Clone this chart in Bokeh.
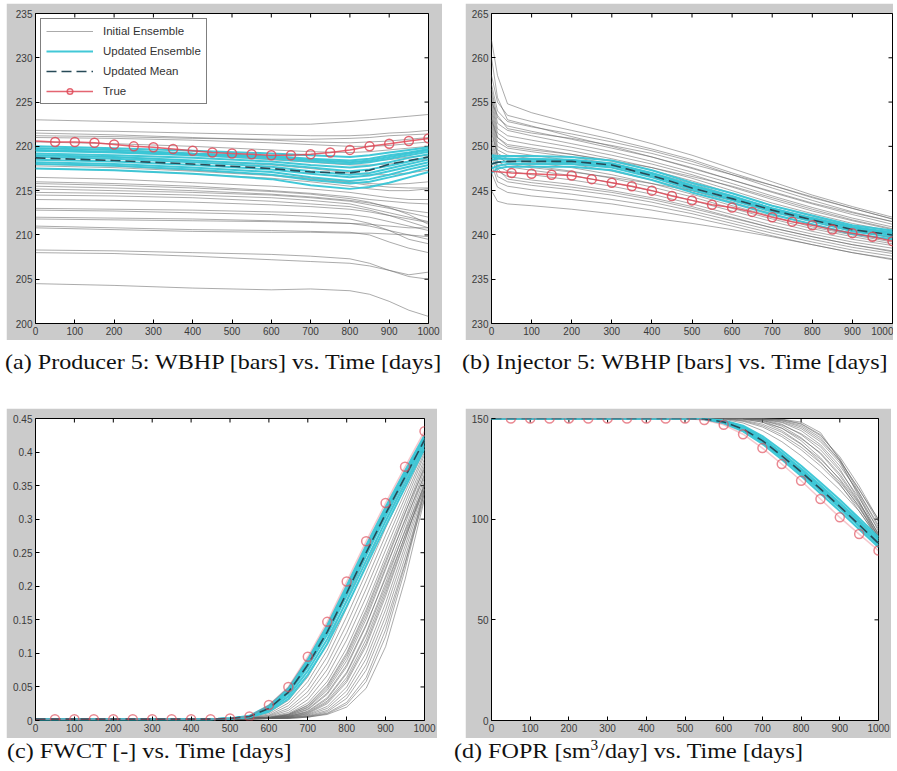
import math
from bokeh.plotting import figure
from bokeh.models import Div, FixedTicker, CustomJSTickFormatter, Range1d
from bokeh.layouts import row, column
from bokeh.embed import file_html
from bokeh.resources import INLINE

# ---------------- data ----------------
X_TICKS = [0, 100, 200, 300, 400, 500, 600, 700, 800, 900, 1000]
TIME_TRUE = [0, 50, 100, 150, 200, 250, 300, 350, 400, 450, 500,
             550, 600, 650, 700, 750, 800, 850, 900, 950, 1000]

# (a) Producer 5 WBHP
A_TIME = [0, 200, 400, 600, 700, 800, 850, 900, 950, 1000]
A_INITIAL = [
    [223.0, 222.8, 222.6, 222.5, 222.5, 222.8, 223.0, 223.2, 223.4, 223.6],
    [221.8, 221.7, 221.5, 221.3, 221.2, 221.2, 221.3, 221.5, 221.6, 221.8],
    [221.5, 221.3, 221.0, 220.7, 220.5, 220.4, 220.5, 220.6, 220.8, 221.0],
    [221.2, 221.1, 220.9, 220.8, 220.8, 220.9, 221.0, 221.2, 221.3, 221.4],
    [221.0, 220.9, 220.7, 220.4, 220.2, 220.0, 220.0, 220.1, 220.3, 220.5],
    [220.5, 220.3, 220.0, 219.6, 219.4, 219.3, 219.4, 219.6, 219.8, 220.0],
    [219.8, 219.6, 219.2, 218.7, 218.4, 218.2, 218.3, 218.5, 218.8, 219.0],
    [219.5, 219.3, 219.0, 218.5, 218.2, 217.9, 217.9, 218.0, 218.3, 218.6],
    [219.0, 218.8, 218.4, 217.9, 217.5, 217.0, 216.8, 216.8, 217.0, 217.3],
    [218.0, 217.8, 217.3, 216.8, 216.4, 216.0, 215.8, 215.7, 215.8, 216.0],
    [217.8, 217.6, 217.2, 216.7, 216.3, 215.9, 215.6, 215.4, 215.3, 215.3],
    [217.5, 217.3, 216.9, 216.4, 216.0, 215.5, 215.2, 215.0, 215.0, 215.2],
    [216.5, 216.3, 215.9, 215.5, 215.2, 214.8, 214.5, 214.2, 214.0, 214.0],
    [216.0, 215.8, 215.5, 215.0, 214.7, 214.3, 214.0, 213.8, 213.6, 213.5],
    [215.8, 215.6, 215.3, 214.9, 214.6, 214.1, 213.7, 213.1, 212.3, 211.2],
    [215.5, 215.3, 215.0, 214.6, 214.3, 213.9, 213.6, 213.2, 212.8, 212.5],
    [215.2, 215.0, 214.8, 214.5, 214.2, 213.8, 213.4, 213.0, 212.5, 212.0],
    [214.8, 214.7, 214.5, 214.2, 213.9, 213.5, 213.0, 212.5, 212.0, 211.5],
    [214.5, 214.4, 214.2, 213.8, 213.5, 213.2, 212.8, 212.2, 211.5, 210.8],
    [214.0, 213.9, 213.7, 213.4, 213.2, 212.9, 212.6, 212.2, 211.8, 211.4],
    [213.0, 212.9, 212.8, 212.6, 212.5, 212.3, 212.0, 211.5, 211.0, 210.5],
    [212.8, 212.7, 212.5, 212.3, 212.1, 211.8, 211.3, 210.5, 209.5, 209.0],
    [212.0, 211.9, 211.8, 211.6, 211.5, 211.3, 211.0, 210.5, 210.0, 209.5],
    [211.8, 211.7, 211.6, 211.5, 211.4, 211.3, 211.2, 211.0, 210.8, 210.8],
    [211.0, 210.8, 210.6, 210.5, 210.4, 210.3, 210.0, 209.2, 208.5, 208.0],
    [210.8, 210.6, 210.4, 210.3, 210.3, 210.2, 210.2, 210.1, 210.0, 209.8],
    [208.3, 208.2, 208.0, 207.8, 207.6, 207.3, 206.8, 206.0, 205.5, 205.8],
    [208.0, 207.9, 207.6, 207.2, 207.0, 206.8, 206.5, 206.0, 205.3, 205.0],
    [204.5, 204.3, 204.0, 203.8, 203.9, 203.7, 203.3, 202.5, 201.5, 200.8],
]
A_UPDATED = [
    [220.0, 219.8, 219.5, 219.2, 219.0, 218.8, 219.0, 219.3, 219.6, 219.9],
    [219.8, 219.6, 219.2, 218.9, 218.6, 218.4, 218.6, 219.0, 219.3, 219.7],
    [219.6, 219.4, 219.1, 218.8, 218.5, 218.2, 218.4, 218.8, 219.2, 219.6],
    [219.5, 219.3, 219.0, 218.6, 218.3, 218.0, 218.2, 218.6, 219.0, 219.4],
    [219.2, 219.0, 218.7, 218.3, 217.9, 217.6, 217.8, 218.2, 218.7, 219.1],
    [219.0, 218.8, 218.4, 218.0, 217.6, 217.2, 217.4, 217.8, 218.3, 218.8],
    [218.8, 218.6, 218.2, 217.7, 217.2, 216.8, 217.0, 217.5, 218.0, 218.5],
    [218.5, 218.3, 217.9, 217.4, 216.9, 216.5, 216.7, 217.2, 217.7, 218.2],
    [218.2, 218.0, 217.6, 217.1, 216.5, 216.1, 216.3, 216.8, 217.4, 217.9],
    [218.0, 217.8, 217.4, 216.8, 216.2, 215.8, 216.0, 216.5, 217.0, 217.6],
    [217.5, 217.3, 216.9, 216.3, 215.6, 215.2, 215.4, 215.9, 216.5, 217.1],
]
A_MEAN = [218.7, 218.4, 218.0, 217.5, 217.1, 217.0, 217.3, 218.0, 218.4, 218.8]
A_TRUE = [220.6, 220.5, 220.5, 220.4, 220.2, 220.0, 219.9, 219.7, 219.5, 219.3, 219.2,
          219.1, 219.0, 219.0, 219.1, 219.3, 219.6, 220.0, 220.3, 220.6, 220.9]

# (b) Injector 5 WBHP
B_TIME = [0, 15, 40, 100, 200, 300, 400, 500, 600, 700, 800, 900, 1000]
B_INITIAL = [
    [262.0, 258.0, 254.8, 253.8, 252.6, 251.5, 250.3, 249.0, 247.5, 246.0, 244.5, 243.2, 242.0],
    [260.0, 255.5, 253.0, 252.3, 251.1, 250.0, 248.8, 247.5, 246.2, 244.9, 243.6, 242.5, 241.5],
    [258.0, 255.0, 253.5, 252.8, 251.8, 250.8, 249.7, 248.5, 247.0, 245.6, 244.2, 243.0, 241.8],
    [257.0, 254.0, 252.8, 252.2, 251.4, 250.5, 249.5, 248.3, 246.8, 245.3, 243.9, 242.6, 241.5],
    [256.5, 253.2, 252.3, 251.7, 250.8, 249.8, 248.8, 247.6, 246.2, 244.8, 243.5, 242.3, 241.2],
    [256.0, 252.6, 251.8, 251.2, 250.3, 249.4, 248.3, 247.1, 245.8, 244.4, 243.1, 241.9, 240.9],
    [255.5, 252.0, 251.2, 250.7, 249.9, 249.0, 248.0, 246.8, 245.4, 244.0, 242.7, 241.6, 240.6],
    [255.0, 253.5, 252.0, 251.5, 250.9, 250.1, 249.2, 248.0, 246.8, 245.6, 244.3, 243.0, 241.8],
    [255.0, 251.5, 250.7, 250.2, 249.5, 248.6, 247.6, 246.4, 245.0, 243.6, 242.4, 241.3, 240.4],
    [254.5, 251.0, 250.2, 249.8, 249.1, 248.3, 247.3, 246.1, 244.7, 243.3, 242.1, 241.0, 240.1],
    [254.0, 250.5, 249.8, 249.4, 248.8, 248.0, 247.0, 245.8, 244.4, 243.0, 241.8, 240.8, 239.9],
    [253.5, 250.0, 249.4, 249.0, 248.4, 247.6, 246.6, 245.4, 244.0, 242.7, 241.5, 240.5, 239.7],
    [253.0, 251.0, 250.0, 249.6, 249.1, 248.4, 247.6, 246.6, 245.5, 244.2, 242.9, 241.7, 240.7],
    [253.0, 249.6, 249.0, 248.6, 248.0, 247.2, 246.2, 245.0, 243.7, 242.4, 241.2, 240.2, 239.4],
    [252.5, 249.2, 248.6, 248.2, 247.6, 246.8, 245.8, 244.6, 243.3, 242.1, 240.9, 240.0, 239.2],
    [252.0, 248.8, 248.2, 247.8, 247.2, 246.4, 245.4, 244.3, 243.0, 241.8, 240.7, 239.8, 239.0],
    [251.5, 249.0, 248.0, 247.6, 247.1, 246.5, 245.8, 245.0, 244.0, 242.9, 241.7, 240.6, 239.6],
    [251.0, 248.3, 247.7, 247.3, 246.7, 245.9, 245.0, 243.9, 242.7, 241.5, 240.4, 239.5, 238.8],
    [250.5, 247.8, 247.2, 246.8, 246.2, 245.5, 244.6, 243.5, 242.3, 241.1, 240.1, 239.2, 238.5],
    [250.0, 247.2, 246.6, 246.2, 245.7, 245.0, 244.2, 243.2, 242.0, 240.8, 239.8, 238.9, 238.2],
    [249.5, 247.5, 246.3, 245.9, 245.4, 244.8, 244.0, 243.0, 241.9, 240.8, 239.8, 238.9, 238.1],
    [249.0, 246.6, 246.0, 245.6, 245.1, 244.5, 243.7, 242.7, 241.6, 240.5, 239.5, 238.6, 237.9],
    [248.0, 246.0, 245.5, 245.1, 244.6, 244.0, 243.3, 242.4, 241.3, 240.2, 239.2, 238.3, 237.6],
    [247.0, 245.4, 244.8, 244.4, 244.0, 243.5, 242.8, 242.0, 241.0, 239.9, 238.9, 238.0, 237.3],
    [245.0, 243.8, 243.5, 243.3, 242.9, 242.4, 241.9, 241.3, 240.6, 239.8, 238.9, 238.0, 237.2],
]
B_UPDATED = [
    [249.0, 248.9, 248.9, 248.9, 248.8, 248.4, 247.3, 245.9, 244.7, 243.3, 242.2, 241.1, 240.5],
    [248.8, 248.7, 248.6, 248.5, 248.4, 248.0, 246.9, 245.5, 244.3, 243.0, 241.9, 240.9, 240.3],
    [248.5, 248.6, 248.6, 248.6, 248.5, 248.1, 247.0, 245.6, 244.4, 243.0, 241.9, 240.8, 240.2],
    [248.0, 248.2, 248.3, 248.3, 248.2, 247.8, 246.7, 245.3, 244.1, 242.8, 241.7, 240.6, 240.0],
    [247.5, 247.8, 248.0, 248.0, 248.0, 247.6, 246.5, 245.1, 243.9, 242.6, 241.5, 240.4, 239.8],
    [247.0, 247.5, 247.7, 247.7, 247.7, 247.3, 246.2, 244.8, 243.6, 242.3, 241.2, 240.1, 239.5],
]
B_MEAN = [248.0, 248.2, 248.3, 248.3, 248.3, 247.9, 246.7, 245.3, 244.1, 242.8, 241.7, 240.6, 240.0]
B_TRUE = [247.2, 247.0, 246.9, 246.8, 246.7, 246.3, 245.9, 245.5, 245.0, 244.4, 243.9,
          243.4, 243.1, 242.6, 242.0, 241.5, 241.1, 240.6, 240.2, 239.8, 239.3]

# (c) FWCT
C_TIME = [0, 450, 500, 550, 600, 650, 700, 750, 800, 850, 900, 950, 1000]
C_INITIAL = [
    [0.002, 0.002, 0.003, 0.005, 0.012, 0.030, 0.065, 0.115, 0.180, 0.245, 0.310, 0.365, 0.418],
    [0.002, 0.002, 0.003, 0.004, 0.010, 0.026, 0.058, 0.105, 0.168, 0.232, 0.298, 0.356, 0.412],
    [0.002, 0.002, 0.003, 0.004, 0.008, 0.022, 0.050, 0.095, 0.155, 0.220, 0.287, 0.348, 0.408],
    [0.002, 0.002, 0.002, 0.004, 0.007, 0.018, 0.043, 0.085, 0.143, 0.208, 0.276, 0.340, 0.404],
    [0.002, 0.002, 0.002, 0.003, 0.006, 0.015, 0.037, 0.076, 0.131, 0.196, 0.265, 0.332, 0.400],
    [0.002, 0.002, 0.002, 0.003, 0.005, 0.012, 0.031, 0.067, 0.120, 0.184, 0.254, 0.324, 0.396],
    [0.002, 0.002, 0.002, 0.003, 0.005, 0.010, 0.026, 0.058, 0.108, 0.172, 0.244, 0.316, 0.390],
    [0.002, 0.002, 0.002, 0.003, 0.004, 0.009, 0.023, 0.053, 0.101, 0.165, 0.238, 0.310, 0.376],
    [0.002, 0.002, 0.002, 0.003, 0.004, 0.009, 0.022, 0.051, 0.098, 0.161, 0.234, 0.308, 0.385],
    [0.002, 0.002, 0.002, 0.003, 0.004, 0.008, 0.020, 0.048, 0.094, 0.156, 0.228, 0.298, 0.365],
    [0.002, 0.002, 0.002, 0.003, 0.004, 0.008, 0.019, 0.045, 0.089, 0.151, 0.225, 0.300, 0.380],
    [0.002, 0.002, 0.002, 0.003, 0.004, 0.007, 0.017, 0.041, 0.083, 0.143, 0.212, 0.282, 0.350],
    [0.002, 0.002, 0.002, 0.003, 0.004, 0.007, 0.016, 0.039, 0.080, 0.141, 0.215, 0.292, 0.374],
    [0.002, 0.002, 0.002, 0.003, 0.004, 0.006, 0.014, 0.034, 0.072, 0.131, 0.205, 0.284, 0.368],
    [0.002, 0.002, 0.002, 0.003, 0.004, 0.006, 0.013, 0.032, 0.070, 0.128, 0.200, 0.275, 0.345],
    [0.002, 0.002, 0.002, 0.003, 0.004, 0.006, 0.012, 0.029, 0.064, 0.121, 0.195, 0.276, 0.362],
    [0.002, 0.002, 0.002, 0.003, 0.003, 0.005, 0.011, 0.027, 0.060, 0.115, 0.190, 0.270, 0.352],
    [0.002, 0.002, 0.002, 0.003, 0.003, 0.005, 0.010, 0.025, 0.057, 0.111, 0.185, 0.268, 0.356],
    [0.002, 0.002, 0.002, 0.003, 0.003, 0.005, 0.009, 0.021, 0.050, 0.101, 0.175, 0.260, 0.350],
    [0.002, 0.002, 0.002, 0.003, 0.003, 0.004, 0.008, 0.018, 0.044, 0.092, 0.165, 0.252, 0.344],
    [0.002, 0.002, 0.002, 0.003, 0.003, 0.004, 0.007, 0.015, 0.038, 0.083, 0.155, 0.243, 0.338],
    [0.002, 0.002, 0.002, 0.002, 0.003, 0.004, 0.006, 0.013, 0.033, 0.075, 0.145, 0.235, 0.332],
    [0.002, 0.002, 0.002, 0.002, 0.003, 0.004, 0.006, 0.011, 0.027, 0.064, 0.135, 0.232, 0.345],
    [0.002, 0.002, 0.002, 0.002, 0.003, 0.003, 0.005, 0.010, 0.024, 0.058, 0.125, 0.225, 0.340],
    [0.002, 0.002, 0.002, 0.002, 0.003, 0.003, 0.005, 0.009, 0.020, 0.048, 0.110, 0.210, 0.330],
]
C_UPDATED = [
    [0.002, 0.002, 0.003, 0.007, 0.022, 0.048, 0.091, 0.142, 0.201, 0.261, 0.318, 0.372, 0.425],
    [0.002, 0.002, 0.003, 0.006, 0.020, 0.045, 0.087, 0.137, 0.196, 0.256, 0.313, 0.368, 0.421],
    [0.002, 0.002, 0.003, 0.006, 0.019, 0.043, 0.084, 0.133, 0.191, 0.251, 0.309, 0.364, 0.418],
    [0.002, 0.002, 0.003, 0.006, 0.017, 0.040, 0.080, 0.128, 0.186, 0.246, 0.304, 0.360, 0.415],
    [0.002, 0.002, 0.003, 0.005, 0.015, 0.036, 0.074, 0.121, 0.178, 0.238, 0.297, 0.353, 0.410],
    [0.002, 0.002, 0.003, 0.005, 0.013, 0.032, 0.068, 0.114, 0.170, 0.230, 0.290, 0.347, 0.405],
]
C_MEAN = [0.002, 0.002, 0.003, 0.006, 0.018, 0.042, 0.083, 0.132, 0.190, 0.250, 0.308, 0.363, 0.418]
C_TRUE = [0.002, 0.002, 0.002, 0.002, 0.002, 0.002, 0.002, 0.002, 0.002, 0.002, 0.003,
          0.006, 0.023, 0.050, 0.095, 0.147, 0.207, 0.267, 0.324, 0.378, 0.431]

# (d) FOPR
D_TIME = [0, 500, 550, 600, 650, 700, 750, 800, 850, 900, 950, 1000]
D_INITIAL = [
    [150, 150, 150, 149.6, 147.8, 144.0, 138.5, 131.5, 123.5, 114.5, 104.0, 90.5],
    [150, 150, 150, 149.8, 148.6, 145.8, 141.0, 134.5, 126.5, 117.0, 105.5, 91.0],
    [150, 150, 150, 149.9, 148.9, 146.5, 142.0, 135.8, 128.0, 118.5, 106.5, 89.5],
    [150, 150, 150, 150.0, 149.2, 147.2, 143.2, 137.2, 129.8, 120.0, 107.5, 91.5],
    [150, 150, 150, 150.0, 149.6, 148.2, 145.2, 140.0, 133.0, 122.5, 108.5, 92.5],
    [150, 150, 150, 150.0, 149.8, 148.2, 144.0, 137.5, 128.5, 117.5, 104.0, 90.0],
    [150, 150, 150, 150.0, 149.9, 148.8, 145.2, 139.0, 130.5, 119.5, 106.0, 91.5],
    [150, 150, 150, 150.0, 149.9, 149.0, 146.8, 142.5, 136.0, 125.0, 109.0, 90.5],
    [150, 150, 150, 150.0, 150.0, 149.2, 146.2, 140.5, 132.5, 121.5, 108.0, 93.0],
    [150, 150, 150, 150.0, 150.0, 149.5, 147.2, 142.0, 134.5, 124.0, 110.5, 95.0],
    [150, 150, 150, 150.0, 150.0, 149.6, 148.0, 144.0, 137.0, 126.5, 113.0, 97.0],
    [150, 150, 150, 150.0, 150.0, 149.7, 148.3, 145.0, 138.5, 128.0, 112.0, 94.0],
    [150, 150, 150, 150.0, 150.0, 149.8, 148.8, 145.8, 139.5, 129.0, 115.0, 98.5],
    [150, 150, 150, 150.0, 150.0, 149.9, 149.0, 146.5, 140.5, 129.0, 111.0, 92.0],
    [150, 150, 150, 150.0, 150.0, 150.0, 149.4, 147.2, 141.5, 131.0, 116.5, 99.5],
    [150, 150, 150, 150.0, 150.0, 150.0, 149.5, 147.5, 142.0, 130.0, 113.0, 96.0],
    [150, 150, 150, 150.0, 150.0, 150.0, 149.7, 148.2, 143.0, 129.5, 114.5, 100.0],
]
D_UPDATED = [
    [150, 150, 149.9, 149.0, 146.4, 141.3, 134.2, 126.5, 118.2, 109.6, 100.5, 91.0],
    [150, 150, 149.9, 148.8, 145.8, 140.3, 133.0, 125.2, 116.8, 108.2, 99.2, 90.0],
    [150, 150, 149.8, 148.5, 145.2, 139.6, 132.2, 124.3, 115.9, 107.2, 98.2, 89.0],
    [150, 150, 149.8, 148.2, 144.5, 138.7, 131.2, 123.2, 114.8, 106.0, 97.0, 88.0],
    [150, 150, 149.7, 148.0, 144.3, 138.3, 130.7, 122.6, 114.1, 105.4, 96.3, 87.0],
    [150, 150, 149.6, 147.6, 143.6, 137.4, 129.6, 121.4, 112.8, 104.0, 95.0, 86.0],
]
D_MEAN = [150, 150, 149.8, 148.3, 144.8, 139.0, 131.5, 123.5, 115.0, 106.3, 97.2, 88.0]
D_TRUE = [150, 150, 150, 150, 150, 150, 150, 150, 150, 150, 150,
          149.2, 146.9, 142.2, 135.3, 127.4, 119.1, 110.0, 100.9, 92.6, 84.4]

A_YTICKS = [200, 205, 210, 215, 220, 225, 230, 235]
B_YTICKS = [230, 235, 240, 245, 250, 255, 260, 265]
C_YTICKS = [0, 0.05, 0.1, 0.15, 0.2, 0.25, 0.3, 0.35, 0.4, 0.45]
D_YTICKS = [0, 50, 100, 150]

CAPTIONS = [
    "(a) Producer 5: WBHP [bars] vs. Time [days]",
    "(b) Injector 5: WBHP [bars] vs. Time [days]",
    "(c) FWCT [-] vs. Time [days]",
    "(d) FOPR [sm<sup style='font-size:14px;line-height:0;vertical-align:8px'>3</sup>/day] vs. Time [days]",
]
LEGEND_LABELS = ["Initial Ensemble", "Updated Ensemble", "Updated Mean", "True"]

# ---------------- styles ----------------
FRAME_GRAY = "#cbcbcb"
GRAY = "#666666"
CYAN = "#38c5d5"
MEAN_COLOR = "#274a57"
RED = "#df4a58"
TICK_FONT = "Liberation Sans"


def make_panel(width, height, bl, br, bt, bb, yrange, yticks, fmt_js=None):
    p = figure(width=width, height=height, output_backend="svg", toolbar_location=None,
               x_range=Range1d(0, 1000), y_range=Range1d(*yrange),
               min_border_left=bl, min_border_right=br, min_border_top=bt, min_border_bottom=bb,
               background_fill_color="white", border_fill_color=FRAME_GRAY,
               outline_line_color="black", outline_line_width=1)
    p.xgrid.visible = False
    p.ygrid.visible = False
    for ax, ticks in ((p.xaxis[0], X_TICKS), (p.yaxis[0], yticks)):
        ax.ticker = FixedTicker(ticks=ticks)
        ax.axis_line_color = None
        ax.major_tick_in = 4
        ax.major_tick_out = 0
        ax.major_tick_line_color = "black"
        ax.minor_tick_line_color = None
        ax.major_label_text_font = TICK_FONT
        ax.major_label_text_font_size = "10px"
        ax.major_label_text_color = "#3a3a3a"
    p.xaxis[0].major_label_standoff = 3
    p.yaxis[0].major_label_standoff = 3
    if fmt_js:
        p.yaxis[0].formatter = CustomJSTickFormatter(code=fmt_js)
    # mirrored inward ticks on top and right edges (clipped to the frame)
    p.scatter(X_TICKS, [yrange[1]] * len(X_TICKS), marker="dash", angle=math.pi / 2,
              size=8, line_color="black", line_width=1)
    p.scatter([1000] * len(yticks), yticks, marker="dash", size=8,
              line_color="black", line_width=1)
    return p


def draw(p, t, initial, updated, mean, true_vals, legend=False, true_line_alpha=0.85,
         marker_alpha=0.85):
    kw = (lambda i: {"legend_label": LEGEND_LABELS[i]}) if legend else (lambda i: {})
    p.multi_line([t] * len(initial), initial, line_color=GRAY, line_alpha=0.55,
                 line_width=1, **kw(0))
    p.multi_line([t] * len(updated), updated, line_color=CYAN, line_alpha=0.95,
                 line_width=2, **kw(1))
    p.line(t, mean, line_color=MEAN_COLOR, line_width=1.6, line_dash="10 5", **kw(2))
    p.line(TIME_TRUE, true_vals, line_color=RED, line_width=1.5, line_alpha=true_line_alpha,
           **kw(3))
    p.scatter(TIME_TRUE[1:], true_vals[1:], marker="circle", size=9, fill_color=None,
              line_color=RED, line_width=1.5, line_alpha=marker_alpha, **kw(3))


fa = make_panel(436, 337, 29, 14, 10, 17, (200, 235), A_YTICKS)
draw(fa, A_TIME, A_INITIAL, A_UPDATED, A_MEAN, A_TRUE, legend=True)
lg = fa.legend[0]
lg.location = "top_left"
lg.margin = 5
lg.padding = 5
lg.spacing = 6
lg.glyph_width = 47
lg.glyph_height = 14
lg.label_height = 14
lg.label_standoff = 10
lg.label_text_font = TICK_FONT
lg.label_text_font_size = "11.5px"
lg.label_text_color = "#333333"
lg.border_line_color = "black"
lg.border_line_width = 1
lg.background_fill_color = "white"
lg.background_fill_alpha = 1

fb = make_panel(428, 337, 26, 1, 9, 13, (230, 265), B_YTICKS)
draw(fb, B_TIME, B_INITIAL, B_UPDATED, B_MEAN, B_TRUE)

fc = make_panel(431, 330, 29, 13, 9, 17, (0, 0.45), C_YTICKS,
                fmt_js="return tick.toFixed(2).replace(/0+$/,'').replace(/\\.$/,'');")
draw(fc, C_TIME, C_INITIAL, C_UPDATED, C_MEAN, C_TRUE, true_line_alpha=0.3, marker_alpha=0.65)

fd = make_panel(426, 330, 26, 13, 10, 18, (0, 150), D_YTICKS)
draw(fd, D_TIME, D_INITIAL, D_UPDATED, D_MEAN, D_TRUE, true_line_alpha=0.3, marker_alpha=0.65)


def caption(text, width, height, pad_top, shift):
    html = ("<div style=\"font-family:'Liberation Serif','Times New Roman',serif;"
            "font-size:22px;line-height:26px;color:#111;white-space:nowrap;"
            f"padding-top:{pad_top}px;margin-left:{shift}px;"
            "transform:scaleX(1.095);transform-origin:left top;\">" + text + "</div>")
    return Div(text=html, width=width, height=height, margin=0)


cap_a = caption(CAPTIONS[0], 436, 68, 9, -1)
cap_b = caption(CAPTIONS[1], 428, 68, 9, -3)
cap_c = caption(CAPTIONS[2], 431, 30, 0, 1)
cap_d = caption(CAPTIONS[3], 426, 30, 0, -11)

layout = column(
    row(fa, fb, spacing=23),
    row(cap_a, cap_b, spacing=23),
    row(fc, fd, spacing=28),
    row(cap_c, cap_d, spacing=28),
    spacing=0,
    styles={"margin-top": "3px", "margin-left": "6px"},
)

open("out.html", "w").write(file_html(layout, INLINE))
